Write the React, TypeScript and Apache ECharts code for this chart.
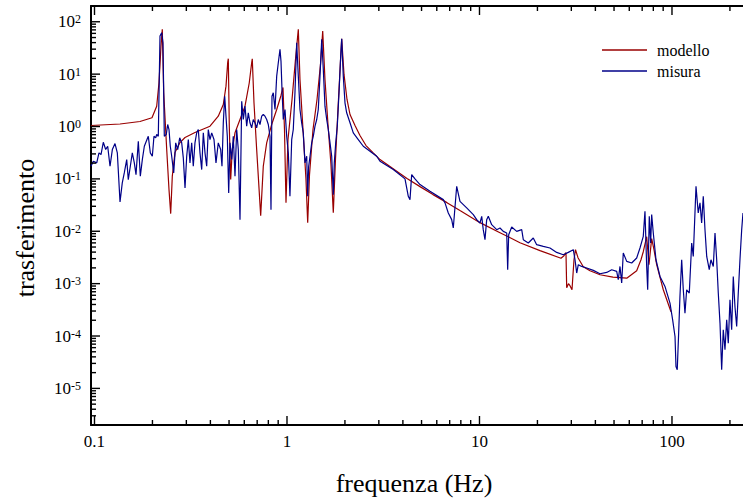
import React, { useEffect, useRef } from "react";
import * as echarts from "echarts";

// ---- data (frequency in Hz, transfer magnitude) ----
const modelloFreq = [0.0959, 0.1357, 0.1723, 0.1989, 0.2104, 0.2163, 0.2215, 0.225, 0.2288, 0.2372, 0.2438, 0.2488, 0.2536, 0.2619, 0.278, 0.2953, 0.3326, 0.3981, 0.4395, 0.4668, 0.4821, 0.492, 0.4956, 0.5015, 0.5099, 0.5197, 0.5369, 0.57, 0.6052, 0.6369, 0.6554, 0.6601, 0.6737, 0.6958, 0.73, 0.7531, 0.7843, 0.8326, 0.8841, 0.9307, 0.9533, 0.9705, 0.9881, 1.012, 1.062, 1.107, 1.145, 1.168, 1.211, 1.255, 1.281, 1.309, 1.365, 1.432, 1.493, 1.533, 1.575, 1.633, 1.692, 1.74, 1.786, 1.84, 1.892, 1.924, 1.978, 2.05, 2.125, 2.256, 2.394, 2.573, 2.798, 3.042, 3.428, 4.202, 4.909, 5.734, 6.779, 7.919, 10.06, 12.78, 16.23, 20.62, 26.51, 27.48, 28.14, 28.38, 28.99, 29.52, 30.24, 30.97, 31.53, 32.49, 34.61, 37.5, 42.27, 49.37, 58.19, 65.56, 69.02, 70.94, 73.89, 75.94, 78.43, 80.63, 83.27, 90.12, 98.8];
const modelloVal = [1.045, 1.116, 1.246, 1.467, 2.444, 6.85, 34.3, 71.6, 4.47, 0.363, 0.0624, 0.0217, 0.1121, 0.318, 0.494, 0.616, 0.768, 1.013, 1.574, 2.634, 5.896, 16.74, 19.7, 1.013, 0.097, 0.363, 0.758, 1.361, 2.444, 6.85, 16.52, 19.7, 2.876, 0.363, 0.0199, 0.1741, 0.488, 1.092, 2.113, 3.914, 5.568, 0.876, 0.0352, 0.564, 3.283, 19.1, 71.6, 7.92, 0.876, 0.097, 0.0146, 0.1208, 0.876, 3.283, 15.33, 66.4, 7.92, 1.092, 0.1877, 0.0227, 0.2339, 2.113, 15.33, 47.5, 9.87, 3.283, 1.696, 1.045, 0.673, 0.433, 0.318, 0.2339, 0.1718, 0.1013, 0.0712, 0.0501, 0.0352, 0.0248, 0.0146, 0.0094, 0.00605, 0.00426, 0.00306, 0.00342, 0.0039, 0.000835, 0.000996, 0.000912, 0.000764, 0.00286, 0.00445, 0.00313, 0.0021, 0.00176, 0.00148, 0.00133, 0.00127, 0.00176, 0.00286, 0.00407, 0.00788, 0.0023, 0.00722, 0.00445, 0.0023, 0.000764, 0.00029];

const misuraFreq = [0.0959, 0.0986, 0.1027, 0.1055, 0.1081, 0.1111, 0.1143, 0.1171, 0.1204, 0.1238, 0.1278, 0.1314, 0.1357, 0.1394, 0.1428, 0.147, 0.1498, 0.1535, 0.1572, 0.161, 0.1643, 0.1689, 0.173, 0.1772, 0.1815, 0.1858, 0.1903, 0.195, 0.1997, 0.2037, 0.2079, 0.2104, 0.2145, 0.2189, 0.2234, 0.2269, 0.2305, 0.236, 0.24, 0.2438, 0.2476, 0.2518, 0.2579, 0.2641, 0.2705, 0.2771, 0.2838, 0.2893, 0.2953, 0.3013, 0.3072, 0.3133, 0.3198, 0.326, 0.3326, 0.3395, 0.3461, 0.3532, 0.3605, 0.3675, 0.375, 0.3827, 0.3901, 0.3981, 0.4063, 0.4176, 0.4277, 0.4395, 0.4523, 0.4595, 0.4668, 0.4747, 0.4821, 0.4897, 0.4979, 0.5057, 0.5161, 0.526, 0.5369, 0.5479, 0.5585, 0.57, 0.5817, 0.5929, 0.6052, 0.6175, 0.6294, 0.6423, 0.6554, 0.6681, 0.6819, 0.6958, 0.7093, 0.7239, 0.7389, 0.7531, 0.7685, 0.7843, 0.7996, 0.816, 0.8258, 0.8357, 0.8487, 0.8664, 0.8841, 0.9012, 0.9197, 0.9307, 0.9419, 0.9567, 0.9763, 0.9964, 1.016, 1.036, 1.058, 1.078, 1.1, 1.123, 1.145, 1.168, 1.192, 1.215, 1.24, 1.266, 1.281, 1.296, 1.317, 1.344, 1.37, 1.398, 1.427, 1.454, 1.484, 1.515, 1.544, 1.575, 1.608, 1.639, 1.673, 1.707, 1.74, 1.761, 1.791, 1.825, 1.863, 1.901, 1.924, 1.961, 2.001, 2.042, 2.125, 2.21, 2.346, 2.491, 2.699, 2.924, 3.042, 3.566, 4.102, 4.267, 4.355, 4.444, 4.623, 4.909, 5.533, 6.486, 6.62, 6.886, 7.171, 7.31, 7.614, 7.919, 8.581, 9.286, 9.672, 10.06, 10.27, 10.46, 10.68, 10.9, 11.11, 11.57, 12.29, 12.78, 13.29, 13.85, 14.01, 14.18, 14.7, 15.61, 16.57, 16.89, 17.93, 19.03, 19.82, 21.45, 23.24, 25.18, 27.25, 28.93, 30.72, 31.35, 31.99, 32.61, 33.96, 36.06, 39.02, 42.27, 45.8, 48.63, 51.62, 52.6, 53.69, 54.79, 55.85, 58.19, 61.75, 65.56, 68.2, 70.94, 72.39, 73.89, 74.78, 76.22, 77.49, 78.43, 79.96, 82.58, 86.63, 91.96, 97.63, 100.8, 103.7, 104.9, 106.5, 108.3, 110.0, 112.3, 114.5, 116.8, 119.2, 123.0, 126.6, 129.0, 133.3, 136.9, 139.8, 142.6, 145.4, 148.4, 151.5, 156.2, 159.4, 163.9, 167.3, 170.7, 174.0, 177.6, 181.2, 184.7, 188.5, 192.4, 196.1, 200.1, 204.2, 208.2, 212.4, 216.8, 221.0, 225.5, 230.2, 233.8];
const misuraVal = [0.1741, 0.217, 0.2022, 0.3142, 0.2914, 0.501, 0.3633, 0.42, 0.1741, 0.3633, 0.4731, 0.3142, 0.0363, 0.0838, 0.1302, 0.2339, 0.097, 0.1741, 0.3142, 0.2022, 0.1208, 0.5236, 0.1121, 0.2339, 0.42, 0.5236, 0.6527, 0.3142, 0.2704, 0.6527, 0.608, 0.7032, 0.6527, 53.3, 61.9, 39.8, 0.6527, 0.7032, 1.092, 0.876, 0.42, 0.2704, 0.1302, 0.4879, 0.3633, 0.608, 0.4879, 0.2521, 0.0673, 0.2704, 0.5641, 0.2022, 0.4879, 0.1741, 0.4879, 0.7579, 0.876, 0.3142, 0.1506, 0.7579, 0.3142, 0.1741, 0.876, 0.5641, 0.7579, 0.5641, 0.2022, 0.4879, 0.3633, 0.1741, 1.177, 3.796, 1.574, 0.6527, 0.054, 0.4879, 0.2339, 0.6527, 0.1121, 0.876, 0.3633, 0.01667, 3.045, 1.361, 2.444, 1.013, 1.828, 1.177, 0.9443, 1.361, 1.177, 0.9443, 1.361, 1.092, 1.574, 1.696, 1.574, 1.361, 1.092, 0.6527, 0.02588, 3.796, 4.41, 2.113, 9.16, 16.52, 29.67, 17.73, 5.098, 1.361, 2.113, 0.6527, 0.3142, 0.0465, 0.5641, 0.876, 4.41, 39.8, 9.16, 2.113, 1.177, 0.7579, 0.2022, 0.2704, 0.0465, 0.1741, 0.2704, 0.4879, 0.6527, 1.013, 1.361, 2.113, 9.16, 46.07, 12.3, 2.444, 1.361, 0.876, 0.4879, 0.2704, 0.0501, 0.2022, 0.4879, 1.013, 4.41, 22.09, 47.5, 9.16, 2.839, 1.828, 1.177, 0.7579, 0.5641, 0.42, 0.3371, 0.2704, 0.217, 0.1506, 0.1, 0.0465, 0.0402, 0.1208, 0.1, 0.0778, 0.0579, 0.0402, 0.0348, 0.02238, 0.01667, 0.01156, 0.0722, 0.0373, 0.0279, 0.02077, 0.01667, 0.01441, 0.01927, 0.01073, 0.00691, 0.01667, 0.01927, 0.01337, 0.01073, 0.01156, 0.00996, 0.00928, 0.001844, 0.00861, 0.01208, 0.00996, 0.01073, 0.00691, 0.00597, 0.00744, 0.00554, 0.00514, 0.00479, 0.00395, 0.00357, 0.00395, 0.00445, 0.00286, 0.001594, 0.0023, 0.00213, 0.00199, 0.00179, 0.001547, 0.001637, 0.001844, 0.00171, 0.001187, 0.00213, 0.001027, 0.00385, 0.00266, 0.00248, 0.00309, 0.00479, 0.00799, 0.02402, 0.00213, 0.000764, 0.01927, 0.00597, 0.02077, 0.00928, 0.00286, 0.001373, 0.000884, 0.000426, 0.000204, 0.0000978, 0.0000261, 0.0000226, 0.0001136, 0.000569, 0.00286, 0.000764, 0.000274, 0.000764, 0.000661, 0.00597, 0.00331, 0.0722, 0.02238, 0.0348, 0.01441, 0.0465, 0.01073, 0.00331, 0.001844, 0.00286, 0.00213, 0.00928, 0.00286, 0.000661, 0.0001765, 0.0000226, 0.0001314, 0.0000545, 0.000204, 0.0000731, 0.000492, 0.0001314, 0.001373, 0.000367, 0.000152, 0.000661, 0.00286, 0.01073, 0.02238];

// ---- axes ----
const xMajorTicks = [0.1, 1, 10, 100];
const yMajorTicks = [1e-5, 1e-4, 1e-3, 1e-2, 1e-1, 1, 10, 100];
const minorMultipliers = [2, 3, 4, 5, 6, 7, 8, 9];
const xDecades = [0.1, 1, 10, 100];
const yDecades = [1e-6, 1e-5, 1e-4, 1e-3, 1e-2, 1e-1, 1, 10, 100];
const xMinorTicks = xDecades.flatMap((d) => minorMultipliers.map((m) => m * d));
const yMinorTicks = yDecades.flatMap((d) => minorMultipliers.map((m) => m * d));

const X_MIN = 0.0959;
const X_MAX = 323;
const Y_MIN = 2e-6;
const Y_MAX = 200;

const GRID_LEFT = 91;
const GRID_TOP = 6;
const GRID_W = 679;
const GRID_H = 419;

const FONT = "Liberation Serif";

export default function App() {
  const ref = useRef<HTMLDivElement>(null);

  useEffect(() => {
    if (!ref.current) return;
    const chart = echarts.init(ref.current, undefined, { renderer: "svg" });

    const axisLineStyle = { color: "#000", width: 2 };

    // pixel position along the log axes of the grid (same mapping as the axes)
    const lxMin = Math.log10(X_MIN);
    const lxSpan = Math.log10(X_MAX) - lxMin;
    const lyMin = Math.log10(Y_MIN);
    const lySpan = Math.log10(Y_MAX) - lyMin;
    const xPix = (v: number) => GRID_LEFT + (GRID_W * (Math.log10(v) - lxMin)) / lxSpan;
    const yPix = (v: number) => GRID_TOP + GRID_H - (GRID_H * (Math.log10(v) - lyMin)) / lySpan;
    const bottomY = GRID_TOP + GRID_H;
    const topY = GRID_TOP;
    const leftX = GRID_LEFT;
    const TW = 1.4;

    const tickEls: any[] = [];
    const addX = (vals: number[], len: number) => {
      vals.filter((v) => v >= X_MIN && v <= X_MAX).forEach((v) => {
        const px = xPix(v);
        tickEls.push({ type: "rect", z: 100, shape: { x: px - TW / 2, y: bottomY - len, width: TW, height: len }, style: { fill: "#000" } });
        tickEls.push({ type: "rect", z: 100, shape: { x: px - TW / 2, y: topY, width: TW, height: len }, style: { fill: "#000" } });
      });
    };
    const addY = (vals: number[], len: number) => {
      vals.filter((v) => v >= Y_MIN && v <= Y_MAX).forEach((v) => {
        const py = yPix(v);
        tickEls.push({ type: "rect", z: 100, shape: { x: leftX, y: py - TW / 2, width: len, height: TW }, style: { fill: "#000" } });
      });
    };
    addX(xMajorTicks, 9);
    addX(xMinorTicks, 5);
    addY(yMajorTicks, 9);
    addY(yMinorTicks, 5);

    const option: any = {
      animation: false,
      backgroundColor: "#fff",
      textStyle: { fontFamily: FONT },
      grid: { left: GRID_LEFT, top: GRID_TOP, width: GRID_W, height: GRID_H },
      legend: {
        orient: "vertical",
        left: 597,
        top: 37,
        icon: "rect",
        itemWidth: 45,
        itemHeight: 1.5,
        itemGap: 5,
        textStyle: { fontFamily: FONT, fontSize: 16, color: "#000", padding: [0, 0, 0, 5] },
        data: ["modello", "misura"],
      },
      xAxis: [
        {
          type: "log",
          min: X_MIN,
          max: X_MAX,
          position: "bottom",
          splitLine: { show: false },
          axisLine: { show: true, lineStyle: axisLineStyle },
          axisTick: { show: false },
          axisLabel: {
            margin: 8,
            customValues: xMajorTicks,
            fontFamily: FONT,
            fontSize: 17,
            color: "#000",
            formatter: (v: number) => (v < 1 ? v.toFixed(1) : String(Math.round(v))),
          },
        },
        {
          type: "log",
          min: X_MIN,
          max: X_MAX,
          position: "top",
          splitLine: { show: false },
          axisLine: { show: true, lineStyle: axisLineStyle },
          axisTick: { show: false },
          axisLabel: { show: false },
        },
      ],
      yAxis: [
        {
          type: "log",
          min: Y_MIN,
          max: Y_MAX,
          position: "left",
          splitLine: { show: false },
          axisLine: { show: true, lineStyle: axisLineStyle },
          axisTick: { show: false },
          axisLabel: {
            margin: 10,
            customValues: yMajorTicks,
            fontFamily: FONT,
            fontSize: 17,
            color: "#000",
            formatter: (v: number) => `{b|10}{s|${Math.round(Math.log10(v))}}`,
            rich: {
              b: { fontFamily: FONT, fontSize: 17, color: "#000" },
              s: { fontFamily: FONT, fontSize: 12, color: "#000", verticalAlign: "top" },
            },
          },
        },
      ],
      series: [
        {
          name: "modello",
          type: "line",
          data: modelloFreq.map((f, i) => [f, modelloVal[i]]),
          symbol: "none",
          lineStyle: { color: "#990000", width: 1.2 },
          itemStyle: { color: "#990000" },
          z: 2,
        },
        {
          name: "misura",
          type: "line",
          data: misuraFreq.map((f, i) => [f, misuraVal[i]]),
          symbol: "none",
          lineStyle: { color: "#000088", width: 1.2 },
          itemStyle: { color: "#000088" },
          z: 3,
        },
      ],
      graphic: [
        { type: "group", z: 100, children: tickEls },
        {
          type: "text",
          x: 25,
          y: 228,
          rotation: Math.PI / 2,
          style: { text: "trasferimento", fontFamily: FONT, fontSize: 26, fill: "#000", align: "center", verticalAlign: "middle" },
        },
        {
          type: "text",
          x: 414,
          y: 483,
          style: { text: "frequenza (Hz)", fontFamily: FONT, fontSize: 26, fill: "#000", align: "center", verticalAlign: "middle" },
        },
      ],
    };

    chart.setOption(option);
    return () => chart.dispose();
  }, []);

  return (
    <div style={{ position: "absolute", left: 0, top: 0, width: 743, height: 503, overflow: "hidden", background: "#fff" }}>
      <div ref={ref} style={{ width: 780, height: 503 }} />
    </div>
  );
}
